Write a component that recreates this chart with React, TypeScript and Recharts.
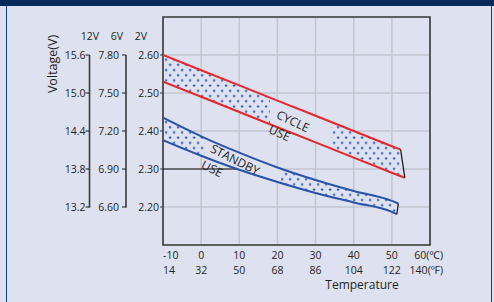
import React from 'react';
import {
  ComposedChart,
  Line,
  Area,
  XAxis,
  YAxis,
  CartesianGrid,
  ReferenceLine,
  ReferenceArea,
  ReferenceDot,
} from 'recharts';

// ---------- data ----------
const tempC = [-10, 0, 10, 20, 30, 40, 50, 60];
const tempF = [14, 32, 50, 68, 86, 104, 122, 140];
const volt2 = [2.2, 2.3, 2.4, 2.5, 2.6];
const volt6 = [6.6, 6.9, 7.2, 7.5, 7.8];
const volt12 = [13.2, 13.8, 14.4, 15.0, 15.6];

const cycleHighT = [-10, 0, 10, 20, 30, 40, 50, 52.3];
const cycleHighV = [2.6, 2.56, 2.52, 2.48, 2.44, 2.4, 2.36, 2.351];
const cycleLowT = [-10, 0, 10, 20, 30, 40, 50, 53.4];
const cycleLowV = [2.53, 2.49, 2.45, 2.41, 2.37, 2.33, 2.29, 2.277];

const standbyHighT = [-10, 0, 10, 20, 30, 40, 50, 51.7];
const standbyHighV = [2.435, 2.386, 2.343, 2.304, 2.271, 2.242, 2.216, 2.209];
const standbyLowT = [-10, 0, 10, 20, 30, 40, 50, 51.3];
const standbyLowV = [2.376, 2.335, 2.298, 2.266, 2.237, 2.212, 2.187, 2.181];

// temperature ranges of the band without dot pattern
const cycleGap = [18, 34];
const standbyGap = [1, 21];
const leaderLine = { t0: -10, t1: 9.5, v: 2.3 };

const bandLabels = [
  { text: 'CYCLE', t: 24.1, v: 2.426, angle: 25 },
  { text: 'USE', t: 20.6, v: 2.395, angle: 25 },
  { text: 'STANDBY', t: 8.9, v: 2.325, angle: 27 },
  { text: 'USE', t: 2.9, v: 2.301, angle: 27 },
];

// ---------- layout / style ----------
const CW = 494;
const CH = 302;
const MT = 17;
const MB = 7;
const XH = 50;
const ML = 40;
const MR = 64;
const PLOT_H = CH - MT - MB - XH;
const Y_MIN = 2.1;
const Y_MAX = 2.7;
const ROW_PX = (PLOT_H * 0.1) / (Y_MAX - Y_MIN);

const FONT = '"Open Sans", "Noto Sans", "DejaVu Sans", sans-serif';
const BG = '#dee2f0';
const TXT = '#1e1e1e';
const RED = '#e8262b';
const BLUE = '#2a52a8';
const DOT = '#2856c0';
const GRID = '#c3c6cf';
const BORDER = '#3a3a3a';

const toPts = (ts: number[], vs: number[]) => ts.map((t, i) => ({ t, v: vs[i] }));
const toBand = (hiT: number[], hiV: number[], loT: number[], loV: number[]) =>
  hiT.map((t, i) => ({ t: Math.min(t, loT[i]), range: [loV[i], hiV[i]] }));

const cycleHigh = toPts(cycleHighT, cycleHighV);
const cycleLow = toPts(cycleLowT, cycleLowV);
const standbyHigh = toPts(standbyHighT, standbyHighV);
const standbyLow = toPts(standbyLowT, standbyLowV);
const cycleBand = toBand(cycleHighT, cycleHighV, cycleLowT, cycleLowV);
const standbyBand = toBand(standbyHighT, standbyHighV, standbyLowT, standbyLowV);
const last = <T,>(a: T[]) => a[a.length - 1];
const cycleEnd = [last(cycleHigh), last(cycleLow)];
const standbyEnd = [last(standbyHigh), last(standbyLow)];

const frac = (band: { t: number }[], t: number) => {
  const a = band[0].t;
  const b = band[band.length - 1].t;
  return (t - a) / (b - a);
};

function GapGradient({ id, band, gap }: { id: string; band: { t: number }[]; gap: number[] }) {
  const a = frac(band, gap[0]);
  const b = frac(band, gap[1]);
  return (
    <linearGradient id={id} x1="0" y1="0" x2="1" y2="0">
      <stop offset={0} stopColor={BG} stopOpacity={0} />
      <stop offset={a} stopColor={BG} stopOpacity={0} />
      <stop offset={a} stopColor={BG} stopOpacity={1} />
      <stop offset={b} stopColor={BG} stopOpacity={1} />
      <stop offset={b} stopColor={BG} stopOpacity={0} />
      <stop offset={1} stopColor={BG} stopOpacity={0} />
    </linearGradient>
  );
}

function ColumnTick(props: any) {
  const { x, y, payload, fmt, size, margin, top } = props;
  const lx = x + size + margin;
  const isTop = payload.value >= top - 1e-9;
  return (
    <g>
      <line x1={lx - size} x2={lx} y1={y} y2={y} stroke={BORDER} strokeWidth={1.2} />
      {!isTop && (
        <line x1={lx} x2={lx} y1={y + 0.6} y2={y - ROW_PX} stroke={BORDER} strokeWidth={1.6} />
      )}
      <text x={x} y={y} dy={3.5} textAnchor="end" fontFamily={FONT} fontSize={10.5} fill={TXT}>
        {fmt(payload.value)}
      </text>
    </g>
  );
}

function TempTick(props: any) {
  const { x, y, payload } = props;
  const i = tempC.indexOf(payload.value);
  if (i < 0) return null;
  const first = i === 0;
  const isLast = i === tempC.length - 1;
  const anchor = first ? 'start' : isLast ? 'end' : 'middle';
  const tx = isLast ? x + 13 : x;
  return (
    <g fontFamily={FONT} fontSize={10.5} fill={TXT}>
      <text x={tx} y={y} dy={13.5} textAnchor={anchor}>
        {tempC[i]}
        {isLast ? '(℃)' : ''}
      </text>
      <text x={tx} y={y} dy={28.5} textAnchor={anchor}>
        {tempF[i]}
        {isLast ? '(℉)' : ''}
      </text>
    </g>
  );
}

const header = (text: string, dx: number) => (props: any) => {
  const vb = props.viewBox || {};
  return (
    <text x={vb.x + dx} y={vb.y + 23} textAnchor="middle" fontFamily={FONT} fontSize={10.5} fill={TXT}>
      {text}
    </text>
  );
};

const voltageLabel = (props: any) => {
  const vb = props.viewBox || {};
  const x = vb.x + 12;
  const y = vb.y + 47;
  return (
    <text
      x={x}
      y={y}
      transform={`rotate(-90 ${x} ${y})`}
      textAnchor="middle"
      dominantBaseline="central"
      fontFamily={FONT}
      fontSize={12.5}
      fill={TXT}
    >
      Voltage(V)
    </text>
  );
};

const tempLabel = (props: any) => {
  const vb = props.viewBox || {};
  return (
    <text x={vb.x + 199} y={vb.y + 43.5} textAnchor="middle" fontFamily={FONT} fontSize={12} fill={TXT}>
      Temperature
    </text>
  );
};

const bandText = (text: string, angle: number) => (props: any) => {
  const vb = props.viewBox || {};
  const x = vb.x + (vb.width || 0) / 2;
  const y = vb.y + (vb.height || 0) / 2;
  return (
    <text
      x={x}
      y={y}
      transform={`rotate(${angle} ${x} ${y})`}
      textAnchor="middle"
      dominantBaseline="central"
      fontFamily={FONT}
      fontSize={12}
      fill={TXT}
    >
      {text}
    </text>
  );
};

export default function App() {
  return (
    <div
      style={{
        position: 'absolute',
        left: 0,
        top: 0,
        width: CW,
        height: CH,
        background: BG,
        overflow: 'hidden',
      }}
    >
      <div style={{ position: 'absolute', left: 0, top: 0, width: CW, height: 6, background: '#062a5c' }} />
      <div style={{ position: 'absolute', left: 6, top: 6, width: 1, height: CH - 6, background: '#1b3f86' }} />
      <div style={{ position: 'absolute', left: 491, top: 6, width: 1, height: CH - 6, background: '#1b3f86' }} />
      <div style={{ position: 'absolute', left: 0, top: 0 }}>
        <ComposedChart width={CW} height={CH} margin={{ top: MT, right: MR, bottom: MB, left: ML }}>
          <defs>
            <pattern id="dots" patternUnits="userSpaceOnUse" width={8} height={10.4}>
              <rect x={0} y={0} width={8} height={10.4} fill={BG} />
              <path
                d="M0.8 2.4h2.6M2.1 1.1v2.6M4.8 7.6h2.6M6.1 6.3v2.6"
                stroke={DOT}
                strokeWidth={1.1}
              />
            </pattern>
            <GapGradient id="gapCycle" band={cycleBand} gap={cycleGap} />
            <GapGradient id="gapStandby" band={standbyBand} gap={standbyGap} />
          </defs>
          <CartesianGrid stroke={GRID} strokeWidth={1.5} />
          <XAxis
            type="number"
            dataKey="t"
            domain={[tempC[0], tempC[tempC.length - 1]]}
            ticks={tempC}
            interval={0}
            allowDataOverflow
            height={XH}
            axisLine={false}
            tickLine={false}
            tickSize={0}
            tickMargin={0}
            tick={(p: any) => <TempTick {...p} />}
            label={tempLabel}
          />
          <YAxis
            type="number"
            domain={[Y_MIN, Y_MAX]}
            ticks={volt2}
            interval={0}
            allowDataOverflow
            width={37}
            axisLine={false}
            tickLine={{ stroke: BORDER }}
            tickSize={3}
            tickMargin={1}
            tickFormatter={(v: number) => v.toFixed(2)}
            tick={{ fontFamily: FONT, fontSize: 10.5, fill: TXT }}
            label={header('2V', 15)}
          />
          <YAxis
            yAxisId="a6"
            type="number"
            domain={[Y_MIN * 3, Y_MAX * 3]}
            ticks={volt6}
            interval={0}
            allowDataOverflow
            width={36.5}
            axisLine={false}
            tickLine={false}
            tickSize={4}
            tickMargin={3}
            tick={(p: any) => (
              <ColumnTick {...p} fmt={(v: number) => v.toFixed(2)} size={4} margin={3} top={Math.max(...volt6)} />
            )}
            label={header('6V', 27.5)}
          />
          <YAxis
            yAxisId="b12"
            type="number"
            domain={[Y_MIN * 6, Y_MAX * 6]}
            ticks={volt12}
            interval={0}
            allowDataOverflow
            width={30}
            axisLine={false}
            tickLine={false}
            tickSize={4}
            tickMargin={0}
            tick={(p: any) => (
              <ColumnTick {...p} fmt={(v: number) => v.toFixed(1)} size={4} margin={0} top={Math.max(...volt12)} />
            )}
            label={header('12V', 30.5)}
          />
          <YAxis
            yAxisId="c_lbl"
            type="number"
            domain={[Y_MIN, Y_MAX]}
            width={19.5}
            axisLine={false}
            tickLine={false}
            tick={false}
            label={voltageLabel}
          />

          <ReferenceLine
            segment={[
              { x: leaderLine.t0, y: leaderLine.v },
              { x: leaderLine.t1, y: leaderLine.v },
            ]}
            stroke="#111"
            strokeWidth={1.2}
          />

          <Area
            data={cycleBand}
            dataKey="range"
            type="linear"
            stroke="none"
            fill="url(#dots)"
            fillOpacity={1}
            isAnimationActive={false}
          />
          <Area
            data={cycleBand}
            dataKey="range"
            type="linear"
            stroke="none"
            fill="url(#gapCycle)"
            fillOpacity={1}
            isAnimationActive={false}
          />
          <Area
            data={standbyBand}
            dataKey="range"
            type="monotone"
            stroke="none"
            fill="url(#dots)"
            fillOpacity={1}
            isAnimationActive={false}
          />
          <Area
            data={standbyBand}
            dataKey="range"
            type="monotone"
            stroke="none"
            fill="url(#gapStandby)"
            fillOpacity={1}
            isAnimationActive={false}
          />

          <Line data={cycleHigh} dataKey="v" type="linear" stroke={RED} strokeWidth={2} dot={false} isAnimationActive={false} />
          <Line data={cycleLow} dataKey="v" type="linear" stroke={RED} strokeWidth={2} dot={false} isAnimationActive={false} />
          <Line data={standbyHigh} dataKey="v" type="monotone" stroke={BLUE} strokeWidth={2} dot={false} isAnimationActive={false} />
          <Line data={standbyLow} dataKey="v" type="monotone" stroke={BLUE} strokeWidth={2} dot={false} isAnimationActive={false} />
          <Line data={cycleEnd} dataKey="v" type="linear" stroke="#111" strokeWidth={1.2} dot={false} isAnimationActive={false} />
          <Line data={standbyEnd} dataKey="v" type="linear" stroke="#111" strokeWidth={1.2} dot={false} isAnimationActive={false} />

          {bandLabels.map((b, i) => (
            <ReferenceDot
              key={i}
              x={b.t}
              y={b.v}
              r={1}
              fill="none"
              stroke="none"
              label={bandText(b.text, b.angle)}
            />
          ))}

          <ReferenceArea
            x1={tempC[0]}
            x2={tempC[tempC.length - 1]}
            y1={Y_MIN}
            y2={Y_MAX}
            fill="none"
            fillOpacity={0}
            stroke={BORDER}
            strokeWidth={1.6}
          />
        </ComposedChart>
      </div>
    </div>
  );
}
